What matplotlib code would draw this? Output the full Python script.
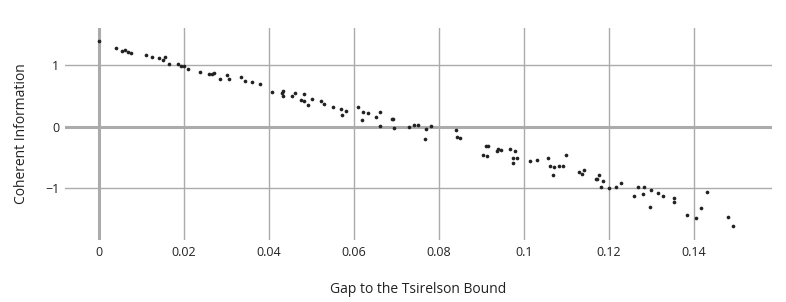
import matplotlib.pyplot as plt

plt.rcParams['font.family'] = ['Open Sans', 'DejaVu Sans']

# Gap to the Tsirelson bound vs coherent information
gap = [0.0000, 0.0041, 0.0055, 0.0062, 0.0069, 0.0075, 0.0110, 0.0126, 0.0142, 0.0151,
       0.0155, 0.0164, 0.0187, 0.0193, 0.0201, 0.0209, 0.0238, 0.0259, 0.0267, 0.0270,
       0.0285, 0.0302, 0.0307, 0.0334, 0.0343, 0.0360, 0.0378, 0.0407, 0.0430, 0.0434,
       0.0434, 0.0454, 0.0462, 0.0475, 0.0483, 0.0483, 0.0492, 0.0501, 0.0523, 0.0530,
       0.0550, 0.0569, 0.0573, 0.0581, 0.0610, 0.0618, 0.0622, 0.0633, 0.0652, 0.0662,
       0.0661, 0.0689, 0.0692, 0.0695, 0.0729, 0.0742, 0.0751, 0.0769, 0.0767, 0.0782,
       0.0841, 0.0842, 0.0850, 0.0904, 0.0910, 0.0912, 0.0915, 0.0937, 0.0938, 0.0945,
       0.0967, 0.0979, 0.0973, 0.0983, 0.0973, 0.1013, 0.1031, 0.1057, 0.1060, 0.1070,
       0.1068, 0.1081, 0.1092, 0.1098, 0.1128, 0.1136, 0.1142, 0.1169, 0.1172, 0.1176,
       0.1185, 0.1182, 0.1200, 0.1217, 0.1229, 0.1259, 0.1269, 0.1280, 0.1281, 0.1298,
       0.1297, 0.1314, 0.1326, 0.1352, 0.1352, 0.1384, 0.1404, 0.1417, 0.1430, 0.1480,
       0.1492]
coh_info = [1.393, 1.279, 1.240, 1.246, 1.219, 1.197, 1.175, 1.142, 1.121, 1.093,
            1.132, 1.028, 1.028, 0.985, 0.985, 0.936, 0.897, 0.860, 0.860, 0.881,
            0.783, 0.843, 0.773, 0.806, 0.750, 0.729, 0.692, 0.561, 0.555, 0.587,
            0.501, 0.506, 0.545, 0.431, 0.538, 0.419, 0.354, 0.457, 0.414, 0.375,
            0.326, 0.289, 0.186, 0.251, 0.321, 0.114, 0.235, 0.223, 0.163, 0.235,
            0.010, 0.121, 0.131, -0.021, -0.005, 0.028, 0.033, -0.042, -0.206, 0.007,
            -0.054, -0.168, -0.184, -0.462, -0.315, -0.478, -0.320, -0.392, -0.369, -0.380,
            -0.359, -0.396, -0.515, -0.511, -0.597, -0.555, -0.543, -0.511, -0.641, -0.662,
            -0.788, -0.636, -0.636, -0.467, -0.744, -0.767, -0.701, -0.858, -0.858, -0.793,
            -0.881, -0.989, -0.995, -0.979, -0.918, -1.135, -0.979, -1.093, -0.979, -1.033,
            -1.310, -1.086, -1.135, -1.163, -1.228, -1.436, -1.485, -1.326, -1.070, -1.473,
            -1.625]

xticks = [0, 0.02, 0.04, 0.06, 0.08, 0.1, 0.12, 0.14]
xtick_labels = ['0', '0.02', '0.04', '0.06', '0.08', '0.1', '0.12', '0.14']
yticks = [-1, 0, 1]
ytick_labels = ['\u22121', '0', '1']

fig = plt.figure(figsize=(7.86, 3.02), dpi=100)
ax = fig.add_axes([65/786, 1 - 240/302, 707/786, 212/302])

grid_col = '#ababab'
for xv in xticks:
    ax.axvline(xv, color=grid_col, lw=2.2 if xv == 0 else 1.0, zorder=1)
for yv in yticks:
    ax.axhline(yv, color=grid_col, lw=2.2 if yv == 0 else 1.0, zorder=1)

ax.scatter(gap, coh_info, s=7, color='#222222', linewidths=0, zorder=3)

ax.set_xlim(-0.00795, 0.1583)
ax.set_ylim(-1.848, 1.61)
ax.set_xticks(xticks)
ax.set_xticklabels(xtick_labels)
ax.set_yticks(yticks)
ax.set_yticklabels(ytick_labels)
ax.tick_params(length=0, labelsize=9, colors='#222222', pad=4)
for s in ax.spines.values():
    s.set_visible(False)

ax.set_xlabel('Gap to the Tsirelson Bound', fontsize=10, color='#222222', labelpad=17)
ax.set_ylabel('Coherent Information', fontsize=10, color='#222222', labelpad=12)

fig.savefig('out.png', dpi=100)
